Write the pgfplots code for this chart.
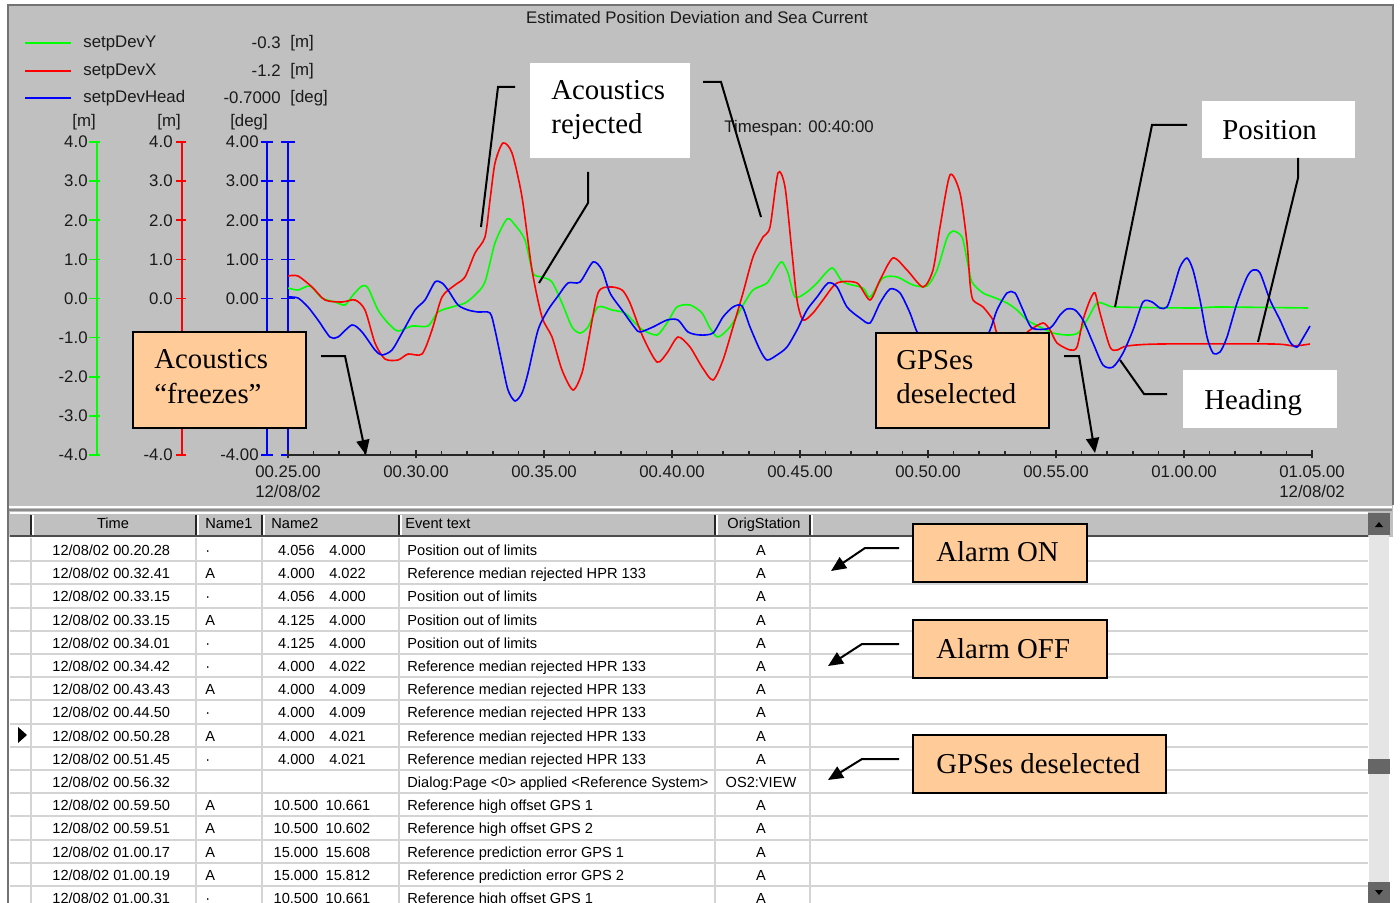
\documentclass[border=0pt]{standalone}
\usepackage{pgfplots}
\usepackage{pgfplotstable}
\pgfplotsset{compat=1.18}
\usepackage{fontspec}
\setmainfont{Liberation Sans}
\newfontfamily\serif{Liberation Serif}
\usetikzlibrary{arrows.meta}
\definecolor{panel}{HTML}{C0C0C0}
\definecolor{peach}{HTML}{FFCC99}
\definecolor{gl}{HTML}{00FF00}
\definecolor{rl}{HTML}{FF0000}
\definecolor{bl}{HTML}{0000FF}
\definecolor{rowline}{HTML}{D4D4D4}
\definecolor{uitext}{HTML}{1A1A1A}
\newcommand{\uif}{\fontsize{8.4}{10}\selectfont}
\newcommand{\tbf}{\fontsize{7.3}{8.5}\selectfont}
\newcommand{\anf}{\serif\fontsize{14.4}{17.5}\selectfont}

\pgfplotstableread{
t v
25.000 0.575
25.391 0.575
25.938 0.294
26.445 -0.038
27.109 -0.089
27.617 -0.038
28.008 -0.294
28.398 -1.137
28.789 -1.546
29.297 -1.572
29.688 -1.419
30.234 -1.419
30.625 -0.805
31.016 0.038
31.523 0.345
31.914 0.550
32.305 1.163
32.695 1.572
32.891 2.518
33.086 3.463
33.398 3.974
33.750 3.719
34.141 2.594
34.531 0.728
34.922 -0.473
35.313 -0.984
35.703 -1.827
36.133 -2.339
36.484 -1.904
36.719 -1.137
37.109 0.141
37.578 0.294
38.047 0.217
38.359 -0.115
38.867 -0.984
39.414 -1.623
39.805 -1.393
40.234 -0.984
40.703 -1.240
41.172 -1.751
41.602 -2.083
41.992 -1.572
42.383 -0.728
42.773 0.141
43.164 1.061
43.555 1.572
43.828 1.827
44.141 3.208
44.414 2.850
44.688 1.163
44.883 -0.038
45.117 -0.550
45.508 -0.371
45.898 -0.038
46.445 0.396
47.227 0.396
47.734 -0.038
48.125 0.473
48.633 1.035
49.180 0.728
49.805 0.294
50.195 0.728
50.469 1.827
50.859 3.157
51.250 2.696
51.523 1.419
51.641 0.396
51.758 -0.038
52.148 -0.217
52.539 -0.550
52.695 -0.882
53.125 -1.112
53.594 -1.010
53.984 -0.805
54.492 -0.626
54.766 -0.805
55.039 -1.137
55.547 -1.316
55.820 -1.240
56.055 -0.550
56.328 -0.038
56.523 0.141
56.719 -0.371
57.109 -1.240
57.383 -1.316
57.773 -1.214
59.063 -1.163
63.477 -1.163
64.258 -1.214
64.922 -1.163
}\reddata

\pgfplotstableread{
t v
25.000 0.268
25.391 0.217
25.859 0.319
26.328 0.013
26.836 -0.089
27.227 -0.166
27.539 0.089
27.891 0.319
28.125 0.268
28.516 -0.294
28.906 -0.626
29.297 -0.831
29.844 -0.703
30.469 -0.703
30.859 -0.345
31.406 -0.217
31.914 -0.115
32.305 0.089
32.695 0.422
33.086 1.419
33.555 2.032
33.867 1.879
34.258 1.495
34.570 0.652
34.922 0.550
35.313 0.422
35.703 -0.115
36.094 -0.728
36.406 -0.882
36.719 -0.728
37.109 -0.217
37.656 -0.294
38.164 -0.371
38.555 -0.626
38.867 -0.805
39.414 -0.933
39.805 -0.626
40.195 -0.217
40.703 -0.166
41.172 -0.371
41.484 -0.754
41.797 -0.984
42.266 -0.728
42.734 -0.217
43.164 0.217
43.711 0.396
44.102 0.805
44.297 0.933
44.531 0.652
44.805 0.038
45.273 0.166
45.664 0.396
46.250 0.780
46.680 0.422
47.461 0.268
47.734 0.038
48.242 0.524
48.789 0.550
49.414 0.345
49.961 0.319
50.352 0.728
50.742 1.546
50.977 1.725
51.328 1.572
51.523 0.984
51.719 0.422
52.148 0.141
52.539 0.038
53.086 -0.115
53.477 -0.294
53.867 -0.550
54.375 -0.728
54.883 -0.882
55.430 -0.933
55.859 -0.882
56.211 -0.550
56.602 -0.115
56.992 -0.166
57.383 -0.217
60.352 -0.243
61.406 -0.217
64.844 -0.243
}\greendata

\pgfplotstableread{
t v
25.000 0.038
25.391 0.013
25.781 -0.217
26.172 -0.550
26.641 -0.984
26.953 -0.984
27.500 -0.677
27.891 -0.856
28.398 -1.316
28.672 -1.444
29.063 -1.316
29.453 -0.882
29.961 -0.294
30.352 -0.038
30.742 0.422
31.016 0.396
31.250 0.217
31.641 -0.166
32.031 -0.294
32.422 -0.345
32.891 -0.371
33.086 -0.805
33.359 -1.649
33.594 -2.339
33.867 -2.620
34.141 -2.415
34.375 -1.904
34.766 -0.805
35.156 -0.294
35.547 0.064
35.938 0.396
36.406 0.422
36.914 0.933
37.266 0.728
37.578 0.141
38.047 -0.294
38.555 -0.754
38.750 -0.856
39.258 -0.728
39.805 -0.550
40.234 -0.550
40.625 -0.856
41.094 -0.933
41.602 -0.882
41.992 -0.473
42.383 -0.217
42.734 -0.192
43.047 -0.728
43.438 -1.316
43.711 -1.572
44.102 -1.444
44.492 -1.240
44.883 -0.805
45.273 -0.294
45.664 0.038
46.094 0.396
46.445 0.294
46.836 -0.217
47.344 -0.498
47.734 -0.626
48.125 -0.115
48.516 0.243
48.906 0.141
49.297 -0.371
49.570 -0.856
50.273 -1.827
50.977 -2.211
51.719 -1.827
52.422 -0.805
52.695 -0.294
53.086 0.141
53.398 0.141
53.711 -0.294
54.063 -0.754
54.766 -0.754
55.156 -0.422
55.430 -0.268
55.742 -0.294
56.055 -0.550
56.445 -1.137
56.836 -1.700
57.227 -1.751
57.617 -1.393
58.008 -0.805
58.398 -0.089
58.750 -0.089
59.063 -0.243
59.336 -0.217
59.570 0.217
59.844 0.805
60.117 1.035
60.352 0.728
60.625 -0.038
60.898 -0.984
61.133 -1.393
61.406 -1.367
61.680 -0.984
62.070 -0.115
62.461 0.550
62.695 0.728
62.969 0.652
63.359 -0.038
63.750 -0.550
64.141 -1.112
64.414 -1.240
64.648 -1.010
64.922 -0.703
}\bluedata

\newcommand{\trow}[6]{%
  \node[tb,anchor=base west] at (52,{555.5+23.2*#1}) {12/08/02 #2};
  \node[tb,anchor=base west] at (205,{555.5+23.2*#1}) {#3};
  \node[tb,anchor=base] at (322,{555.5+23.2*#1}) {#4};
  \node[tb,anchor=base west] at (407,{555.5+23.2*#1}) {#5};
  \node[tb,anchor=base] at (761,{555.5+23.2*#1}) {#6};
}

\begin{document}
\begin{tikzpicture}[
  ui/.style={inner sep=0pt, font=\uif, text=uitext},
  tb/.style={inner sep=0pt, font=\tbf, text=black},
  an/.style={inner sep=0pt, font=\anf, text=black},
  arr/.style={line width=1pt, -{Triangle[length=7.5pt,width=6.5pt]}},
  ln/.style={line width=1pt}]
\path[use as bounding box] (0pt,0pt) rectangle (700pt,-451.5pt);
\begin{scope}[x=0.5pt,y=-0.5pt]
  \fill[white] (0,0) rectangle (1400,903);
  \fill[panel] (8,5) rectangle (1393,537);
  \draw[black!55,line width=1pt] (8,903) -- (8,5) -- (1393,5) -- (1393,505);
  \draw[white,line width=1pt] (9,507) -- (1392,507);
  \draw[black!45,line width=1pt] (9,510) -- (1392,510);
  % title
  \node[ui] at (697,17) {Estimated Position Deviation and Sea Current};
  % legend
  \draw[gl,line width=1pt] (25,43) -- (71,43);
  \draw[rl,line width=1pt] (25,71) -- (71,71);
  \draw[bl,line width=1pt] (25,98) -- (71,98);
  \node[ui,anchor=west] at (83,43) {setpDevY};
  \node[ui,anchor=west] at (83,71) {setpDevX};
  \node[ui,anchor=west] at (83,98) {setpDevHead};
  \node[ui,anchor=east] at (281,43) {-0.3};
  \node[ui,anchor=east] at (281,71) {-1.2};
  \node[ui,anchor=east] at (281,98) {-0.7000};
  \node[ui,anchor=west] at (290,43) {[m]};
  \node[ui,anchor=west] at (290,71) {[m]};
  \node[ui,anchor=west] at (290,98) {[deg]};
  % units
  \node[ui] at (84,122) {[m]};
  \node[ui] at (169,122) {[m]};
  \node[ui] at (249,122) {[deg]};
  \node[ui,anchor=west] at (724,128) {Timespan: 00:40:00};
  % y axes
  \draw[gl,line width=0.8pt] (97,142) -- (97,455);
  \draw[rl,line width=0.8pt] (182,142) -- (182,455);
  \draw[bl,line width=0.8pt] (267,142) -- (267,455);
  \draw[bl,line width=0.8pt] (288,142) -- (288,455);
  \foreach \v/\a/\b in {4/4.0/4.00,3/3.0/3.00,2/2.0/2.00,1/1.0/1.00,0/0.0/0.00,-1/-1.0/-1.00,-2/-2.0/-2.00,-3/-3.0/-3.00,-4/-4.0/-4.00}{
    \draw[gl,line width=0.8pt] (89,{298.5-39.125*\v}) -- (100,{298.5-39.125*\v});
    \draw[rl,line width=0.8pt] (176,{298.5-39.125*\v}) -- (186,{298.5-39.125*\v});
    \draw[bl,line width=0.8pt] (261,{298.5-39.125*\v}) -- (273,{298.5-39.125*\v});
    \draw[bl,line width=0.8pt] (281,{298.5-39.125*\v}) -- (295,{298.5-39.125*\v});
    \node[ui,anchor=east] at (88,{298.5-39.125*\v}) {\a};
  }
  % red and blue scale labels (those wholly behind the box are not drawn)
  \foreach \v/\a/\b in {4/4.0/4.00,3/3.0/3.00,2/2.0/2.00,1/1.0/1.00,0/0.0/0.00,-1/-1.0/-1.00,-4/-4.0/-4.00}{
    \node[ui,anchor=east] at (173,{298.5-39.125*\v}) {\a};
    \node[ui,anchor=east] at (259,{298.5-39.125*\v}) {\b};
  }
\end{scope}

\begin{axis}[
  at={(144pt,-227.5pt)}, anchor=south west,
  scale only axis, width=512pt, height=156.5pt,
  xmin=25, xmax=65, ymin=-4, ymax=4,
  axis x line*=bottom, axis y line=none,
  x axis line style={black!85, line width=0.9pt, -},
  xtick={25,30,35,40,45,50,55,60,65},
  xticklabels={{00.25.00\\12/08/02},00.30.00,00.35.00,00.40.00,00.45.00,00.50.00,00.55.00,01.00.00,{01.05.00\\12/08/02}},
  minor x tick num=4,
  xtick align=center,
  major tick length=4pt, minor tick length=2pt,
  major x tick style={black!85, line width=0.9pt, yshift=0.5pt},
  minor x tick style={black!85, line width=0.8pt, yshift=1pt},
  xticklabel style={font=\uif, align=center, text=uitext, inner sep=0pt},
  xticklabel shift=3pt,
]
\addplot[gl, line width=0.8pt, smooth, tension=0.45] table[x=t,y=v] {\greendata};
\addplot[rl, line width=0.8pt, smooth, tension=0.45] table[x=t,y=v] {\reddata};
\addplot[bl, line width=0.8pt, smooth, tension=0.45] table[x=t,y=v] {\bluedata};
\end{axis}

\begin{scope}[x=0.5pt,y=-0.5pt]
  % chart annotations
  \fill[white] (530,63) rectangle (690,158);
  \node[an,anchor=base west] at (551,100) {Acoustics};
  \node[an,anchor=base west] at (551,134) {rejected};
  \draw[ln] (515,87) -- (498,87) -- (481,227);
  \draw[ln] (588,172) -- (588,203) -- (539,283);
  \draw[ln] (703,82) -- (721,82) -- (761,217);

  \draw[fill=peach,line width=1pt] (133,332) rectangle (306,428);
  \node[an,anchor=base west] at (154,368) {Acoustics};
  \node[an,anchor=base west] at (154,403) {“freezes”};
  \draw[arr] (321,356) -- (345,356) -- (366,455);

  \draw[fill=peach,line width=1pt] (876,333) rectangle (1049,428);
  \node[an,anchor=base west] at (896,369) {GPSes};
  \node[an,anchor=base west] at (896,403) {deselected};
  \draw[arr] (1064,356) -- (1079,356) -- (1095,453);

  \fill[white] (1202,101) rectangle (1355,158);
  \node[an,anchor=base west] at (1222,140) {Position};
  \draw[ln] (1187,125) -- (1152,125) -- (1115,307);
  \draw[ln] (1298,158) -- (1298,178) -- (1258,342);

  \fill[white] (1183,370) rectangle (1337,428);
  \node[an,anchor=base west] at (1204,409) {Heading};
  \draw[ln] (1167,394) -- (1144,394) -- (1120,360);

  % table header
  \fill[panel] (10,512) rectangle (1368,537);
  \draw[white,line width=1pt] (10,513) -- (1368,513);
  \draw[black!70,line width=1pt] (10,536) -- (1368,536);
  \foreach \x in {31,196,262,399,715,810}{
    \draw[black!85,line width=1pt] (\x,515) -- (\x,535);
    \draw[white,line width=0.6pt] (\x+2,515) -- (\x+2,535);
  }
  \node[tb,anchor=base] at (113,528.5) {Time};
  \node[tb,anchor=base west] at (205,528.5) {Name1};
  \node[tb,anchor=base west] at (271,528.5) {Name2};
  \node[tb,anchor=base west] at (405,528.5) {Event text};
  \node[tb,anchor=base west] at (727,528.5) {OrigStation};
  % table body
  \fill[white] (10,538) rectangle (1368,903);
  \foreach \k in {1,...,16}{
    \draw[rowline,line width=1pt] (10,{538+23.2*\k}) -- (1368,{538+23.2*\k});
  }
  \foreach \x in {31,196,262,399,715,810}{
    \draw[rowline,line width=1pt] (\x,538) -- (\x,903);
  }
  \trow{0}{00.20.28}{·}{4.056\hspace{1em}4.000}{Position out of limits}{A}
  \trow{1}{00.32.41}{A}{4.000\hspace{1em}4.022}{Reference median rejected HPR 133}{A}
  \trow{2}{00.33.15}{·}{4.056\hspace{1em}4.000}{Position out of limits}{A}
  \trow{3}{00.33.15}{A}{4.125\hspace{1em}4.000}{Position out of limits}{A}
  \trow{4}{00.34.01}{·}{4.125\hspace{1em}4.000}{Position out of limits}{A}
  \trow{5}{00.34.42}{·}{4.000\hspace{1em}4.022}{Reference median rejected HPR 133}{A}
  \trow{6}{00.43.43}{A}{4.000\hspace{1em}4.009}{Reference median rejected HPR 133}{A}
  \trow{7}{00.44.50}{·}{4.000\hspace{1em}4.009}{Reference median rejected HPR 133}{A}
  \trow{8}{00.50.28}{A}{4.000\hspace{1em}4.021}{Reference median rejected HPR 133}{A}
  \trow{9}{00.51.45}{·}{4.000\hspace{1em}4.021}{Reference median rejected HPR 133}{A}
  \trow{10}{00.56.32}{}{}{Dialog:Page <0> applied <Reference System>}{OS2:VIEW}
  \trow{11}{00.59.50}{A}{10.500\hspace{0.5em}10.661}{Reference high offset GPS 1}{A}
  \trow{12}{00.59.51}{A}{10.500\hspace{0.5em}10.602}{Reference high offset GPS 2}{A}
  \trow{13}{01.00.17}{A}{15.000\hspace{0.5em}15.608}{Reference prediction error GPS 1}{A}
  \trow{14}{01.00.19}{A}{15.000\hspace{0.5em}15.812}{Reference prediction error GPS 2}{A}
  \trow{15}{01.00.31}{·}{10.500\hspace{0.5em}10.661}{Reference high offset GPS 1}{A}
  \fill[black] (18,727) -- (18,743) -- (27,735) -- cycle;
  % scroll bar
  \fill[black!10] (1369,513) rectangle (1389,903);
  \draw[fill=panel,black!60,line width=0.6pt] (1369,514) rectangle (1389,534);
  \fill[black] (1375,527) -- (1383,527) -- (1379,522) -- cycle;
  \draw[fill=panel,black!60,line width=0.6pt] (1369,760) rectangle (1389,773);
  \draw[fill=panel,black!60,line width=0.6pt] (1369,883) rectangle (1389,903);
  \fill[black] (1375,890) -- (1383,890) -- (1379,895) -- cycle;
  % table annotations
  \draw[fill=peach,line width=1pt] (913,524) rectangle (1087,582);
  \node[an,anchor=base west] at (936,561) {Alarm ON};
  \draw[arr] (899,548) -- (865,548) -- (831,571);
  \draw[fill=peach,line width=1pt] (913,620) rectangle (1107,678);
  \node[an,anchor=base west] at (936,658) {Alarm OFF};
  \draw[arr] (899,644) -- (862,644) -- (828,666);
  \draw[fill=peach,line width=1pt] (913,735) rectangle (1166,793);
  \node[an,anchor=base west] at (936,773) {GPSes deselected};
  \draw[arr] (899,759) -- (862,759) -- (828,780);
\end{scope}
\end{tikzpicture}
\end{document}
